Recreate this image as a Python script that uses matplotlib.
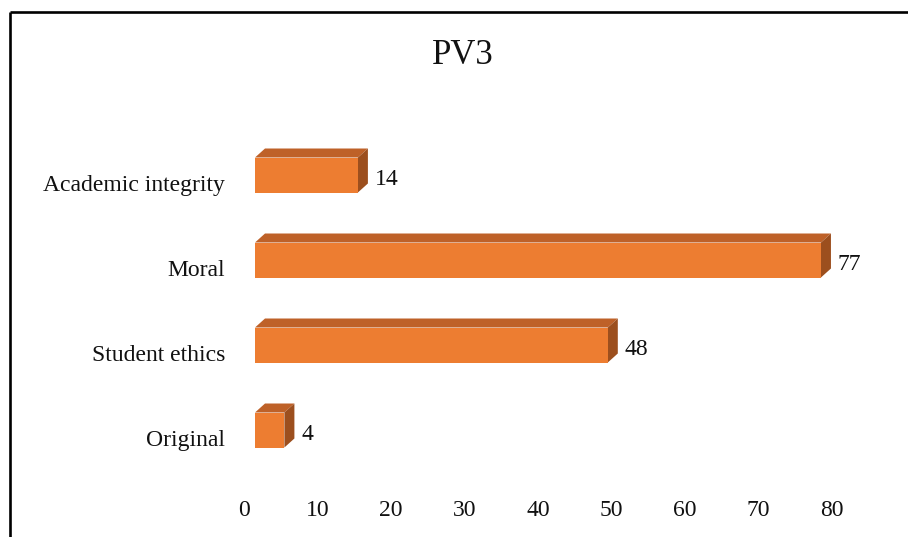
import matplotlib
matplotlib.use("Agg")
import matplotlib.pyplot as plt
from matplotlib.patches import Polygon
from matplotlib.lines import Line2D
from matplotlib.transforms import ScaledTranslation

# Data (bottom to top)
categories = ["Original", "Student ethics", "Moral", "Academic integrity"]
values = [4, 48, 77, 14]
xticks = [0, 10, 20, 30, 40, 50, 60, 70, 80]
title = "PV3"

FRONT = "#ED7D31"
TOP = "#BE6128"
SIDE = "#9C4F1E"
FONT = "Liberation Serif"

W, H, DPI = 908, 537, 100
fig = plt.figure(figsize=(W / DPI, H / DPI), dpi=DPI)
fig.patch.set_facecolor("white")

# Axes placed so one category step is 85 px and 10 units are 73.5 px
ax = fig.add_axes([255 / W, 64.5 / H, 588 / W, 340 / H])
ax.set_xlim(0, 80)
ax.set_ylim(-0.5, 3.5)
for s in ax.spines.values():
    s.set_visible(False)

bar_h = 35 / 85            # bar thickness in category units
dx = 10 / 7.35             # depth of the 3D extrusion in data units
dy = 9 / 85

ypos = list(range(len(categories)))
ax.barh(ypos, values, height=bar_h, color=FRONT, edgecolor="none", zorder=3)
for y, v in zip(ypos, values):
    top = y + bar_h / 2
    bot = y - bar_h / 2
    ax.add_patch(Polygon([(0, top), (v, top), (v + dx, top + dy), (dx, top + dy)],
                         closed=True, facecolor=TOP, edgecolor="none", zorder=2))
    ax.add_patch(Polygon([(v, bot), (v + dx, bot + dy), (v + dx, top + dy), (v, top)],
                         closed=True, facecolor=SIDE, edgecolor="none", zorder=2))
    ax.text(v + dx + 0.9, y - 0.055, str(v), ha="left", va="center",
            fontsize=17, family=FONT, color="#111111", zorder=4)

ax.set_xticks(xticks)
ax.set_xticklabels([str(t) for t in xticks], family=FONT, fontsize=17, color="#111111")
ax.set_yticks(ypos)
ax.set_yticklabels(categories, family=FONT, fontsize=17, color="#111111")
ax.tick_params(axis="x", length=0, pad=20)
ax.tick_params(axis="y", length=0, pad=21.5)

# Labels sit on the floor plane, slightly offset from the bar fronts
xoff = ScaledTranslation(-11 / DPI, 0, fig.dpi_scale_trans)
yoff = ScaledTranslation(0, -8 / DPI, fig.dpi_scale_trans)
for lab in ax.get_xticklabels():
    lab.set_transform(lab.get_transform() + xoff)
for lab in ax.get_yticklabels():
    lab.set_transform(lab.get_transform() + yoff)

fig.text(463 / W, 1 - 55 / H, title, ha="center", va="center",
         fontsize=25, family=FONT, color="#111111")

# Chart frame (top and left edges)
lw = 1.9
fig.add_artist(Line2D([10 / W, 1.0], [1 - 12 / H, 1 - 12 / H],
                      transform=fig.transFigure, color="black", lw=lw, solid_capstyle="butt"))
fig.add_artist(Line2D([10 / W, 10 / W], [0.0, 1 - 12 / H],
                      transform=fig.transFigure, color="black", lw=lw, solid_capstyle="butt"))

fig.savefig("out.png", dpi=DPI)
